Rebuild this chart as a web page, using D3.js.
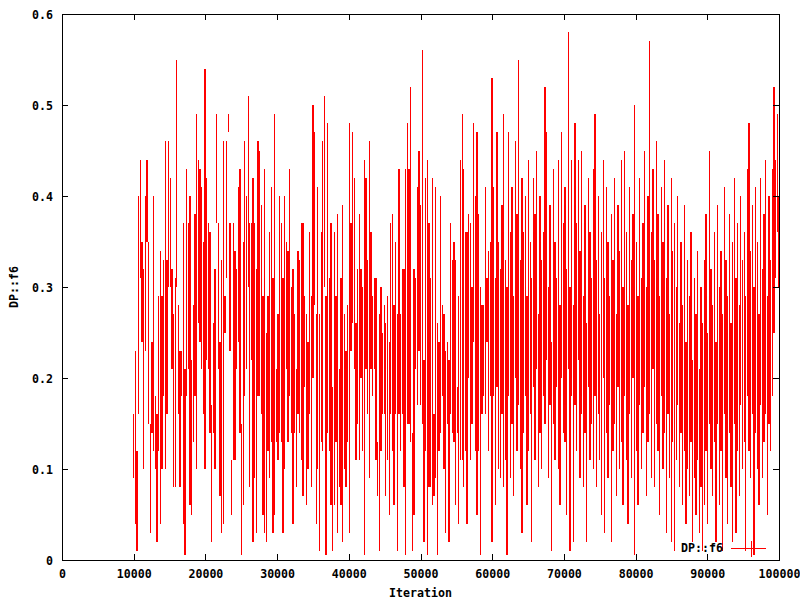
<!DOCTYPE html>
<html>
<head>
<meta charset="utf-8">
<script src="https://cdn.jsdelivr.net/npm/d3@7"></script>
<style>
  html, body { margin: 0; padding: 0; background: #fff; }
  svg { display: block; }
  text { font-family: "DejaVu Sans Mono", "Liberation Mono", monospace; font-weight: bold; font-size: 11.6px; fill: #000; }
</style>
</head>
<body>
<svg id="chart" width="800" height="600"></svg>
<script>
// ---- Data ----
// Each sample is a vertical bar: consecutive values are [upper, lower] of one sample.
const seriesName = "DP::f6";
const xLabel = "Iteration";
const yLabel = "DP::f6";
const firstIteration = 10000;
const lastIteration = 100000;
const xTicks = [0, 10000, 20000, 30000, 40000, 50000, 60000, 70000, 80000, 90000, 100000];
const yTicks = [0, 0.1, 0.2, 0.3, 0.4, 0.5, 0.6];

// iterations ~10000 - 23000
const f6Part1 = [
  0.16,0.09, 0.23,0.04, 0.12,0.01, 0.40,0.16, 0.44,0.31, 0.35,0.24, 0.32,0.10, 0.40,0.23,
  0.44,0.35, 0.35,0.15, 0.15,0.03, 0.24,0.14, 0.40,0.12, 0.18,0.10, 0.16,0.02, 0.29,0.12,
  0.34,0.04, 0.29,0.10, 0.33,0.18, 0.46,0.10, 0.33,0.16, 0.46,0.30, 0.42,0.30, 0.32,0.21,
  0.27,0.08, 0.31,0.08, 0.55,0.30, 0.28,0.16, 0.23,0.08, 0.23,0.18, 0.37,0.04, 0.21,0.005,
  0.43,0.18, 0.37,0.21, 0.40,0.06, 0.22,0.05, 0.28,0.13, 0.38,0.18, 0.49,0.10, 0.44,0.26,
  0.43,0.24, 0.41,0.21, 0.35,0.16, 0.54,0.10, 0.42,0.22, 0.37,0.21, 0.36,0.14, 0.17,0.02,
  0.26,0.14, 0.32,0.10, 0.49,0.37, 0.37,0.21, 0.24,0.07
];
// iterations ~23000 - 36000
const f6Part2 = [
  0.33,0.03, 0.46,0.04, 0.29,0.25, 0.46,0.31, 0.49,0.47, 0.37,0.23, 0.11,0.05, 0.37,0.11,
  0.34,0.11, 0.32,0.21, 0.41,0.24, 0.43,0.14, 0.15,0.005, 0.35,0.06, 0.46,0.18, 0.40,0.21,
  0.51,0.30, 0.37,0.08, 0.37,0.22, 0.42,0.02, 0.37,0.09, 0.32,0.03, 0.46,0.18, 0.45,0.18,
  0.39,0.16, 0.29,0.05, 0.43,0.03, 0.25,0.02, 0.29,0.12, 0.36,0.09, 0.41,0.13, 0.31,0.03,
  0.49,0.05, 0.21,0.13, 0.27,0.11, 0.40,0.14, 0.37,0.13, 0.31,0.03, 0.40,0.10, 0.35,0.21,
  0.34,0.13, 0.43,0.18, 0.30,0.14, 0.32,0.04, 0.27,0.14, 0.21,0.08, 0.34,0.16, 0.33,0.14,
  0.37,0.11, 0.37,0.07, 0.29,0.19, 0.27,0.06, 0.24,0.10, 0.36,0.16, 0.29,0.08, 0.50,0.20,
  0.47,0.28
];
// iterations ~36000 - 49000
const f6Part3 = [
  0.27,0.04, 0.41,0.10, 0.27,0.01, 0.36,0.13, 0.46,0.12, 0.51,0.30, 0.29,0.005, 0.48,0.14,
  0.31,0.12, 0.37,0.06, 0.19,0.01, 0.36,0.06, 0.29,0.13, 0.38,0.03, 0.21,0.08, 0.31,0.06,
  0.39,0.02, 0.27,0.10, 0.23,0.08, 0.28,0.13, 0.48,0.03, 0.37,0.23, 0.47,0.26, 0.42,0.21,
  0.26,0.11, 0.32,0.15, 0.38,0.11, 0.32,0.20, 0.30,0.12, 0.44,0.005, 0.42,0.21, 0.33,0.16,
  0.46,0.09, 0.36,0.21, 0.29,0.18, 0.31,0.21, 0.31,0.11, 0.13,0.07, 0.27,0.01, 0.30,0.12,
  0.25,0.16, 0.28,0.16, 0.26,0.07, 0.29,0.11, 0.24,0.05, 0.37,0.16, 0.38,0.12, 0.28,0.06,
  0.35,0.16, 0.27,0.01, 0.43,0.16, 0.27,0.12, 0.32,0.16, 0.32,0.08, 0.43,0.005, 0.48,0.15,
  0.43,0.15
];
// iterations ~49000 - 62000
const f6Part4 = [
  0.52,0.13, 0.14,0.01, 0.32,0.05, 0.31,0.21, 0.41,0.17, 0.45,0.23, 0.39,0.17, 0.56,0.15,
  0.22,0.02, 0.42,0.12, 0.44,0.005, 0.37,0.08, 0.31,0.08, 0.42,0.06, 0.16,0.07, 0.41,0.09,
  0.26,0.005, 0.24,0.12, 0.40,0.14, 0.28,0.18, 0.27,0.10, 0.23,0.03, 0.24,0.15, 0.22,0.02,
  0.37,0.16, 0.33,0.14, 0.35,0.13, 0.33,0.06, 0.19,0.14, 0.29,0.04, 0.44,0.11, 0.49,0.11,
  0.43,0.08, 0.36,0.12, 0.36,0.04, 0.38,0.20, 0.37,0.11, 0.30,0.15, 0.48,0.24, 0.40,0.12,
  0.47,0.05, 0.38,0.12, 0.30,0.005, 0.28,0.16, 0.28,0.18, 0.41,0.16, 0.31,0.24, 0.34,0.12,
  0.35,0.18, 0.53,0.02, 0.41,0.18, 0.31,0.06, 0.47,0.19, 0.35,0.10, 0.32,0.09, 0.39,0.16,
  0.49,0.08
];
// iterations ~62000 - 100000
const f6Part5 = [
  0.33,0.11, 0.30,0.005, 0.47,0.18, 0.36,0.09, 0.41,0.15, 0.29,0.07,
  0.46,0.20, 0.38,0.12, 0.55,0.17, 0.33,0.10, 0.42,0.03, 0.36,0.14,
  0.40,0.18, 0.29,0.06, 0.44,0.12, 0.35,0.16, 0.31,0.02, 0.42,0.19,
  0.38,0.11, 0.45,0.21, 0.27,0.08, 0.40,0.14, 0.33,0.10, 0.36,0.18,
  0.52,0.15, 0.47,0.22, 0.30,0.09, 0.39,0.17, 0.24,0.01, 0.43,0.15,
  0.35,0.11, 0.31,0.19, 0.44,0.10, 0.28,0.06, 0.47,0.20, 0.37,0.14,
  0.41,0.13, 0.32,0.05, 0.58,0.21, 0.30,0.01, 0.44,0.18, 0.28,0.02,
  0.48,0.17, 0.37,0.12, 0.44,0.22, 0.34,0.09, 0.45,0.16, 0.29,0.08,
  0.39,0.14, 0.26,0.02, 0.42,0.19, 0.36,0.11, 0.31,0.15, 0.43,0.10,
  0.49,0.18, 0.33,0.08, 0.40,0.16, 0.27,0.11, 0.36,0.05, 0.44,0.20,
  0.31,0.03, 0.41,0.14, 0.35,0.09, 0.29,0.17, 0.38,0.02, 0.33,0.12,
  0.42,0.15, 0.27,0.07, 0.39,0.19, 0.34,0.10, 0.44,0.13, 0.30,0.06,
  0.45,0.18, 0.36,0.11, 0.28,0.04, 0.41,0.16, 0.33,0.09, 0.38,0.20,
  0.50,0.005, 0.35,0.12, 0.29,0.06, 0.42,0.17, 0.31,0.10, 0.37,0.14,
  0.45,0.19, 0.30,0.07, 0.40,0.13, 0.57,0.16, 0.36,0.09, 0.43,0.21,
  0.33,0.08, 0.46,0.15, 0.38,0.12, 0.29,0.05, 0.41,0.18, 0.35,0.10,
  0.44,0.14, 0.31,0.03, 0.39,0.16, 0.27,0.09, 0.42,0.02, 0.34,0.13,
  0.37,0.01, 0.30,0.11, 0.40,0.17, 0.26,0.08, 0.35,0.14, 0.28,0.06,
  0.39,0.12, 0.24,0.04, 0.33,0.10, 0.29,0.07, 0.36,0.13, 0.22,0.02,
  0.31,0.09, 0.27,0.05, 0.34,0.11, 0.21,0.03, 0.30,0.08, 0.26,0.01,
  0.33,0.06, 0.38,0.12, 0.25,0.04, 0.45,0.15, 0.32,0.10, 0.28,0.07,
  0.36,0.13, 0.24,0.02, 0.39,0.15, 0.30,0.06, 0.34,0.12, 0.27,0.01,
  0.41,0.16, 0.33,0.09, 0.29,0.04, 0.38,0.14, 0.26,0.08, 0.35,0.02,
  0.42,0.15, 0.31,0.03, 0.37,0.12, 0.28,0.07, 0.40,0.17, 0.33,0.10,
  0.36,0.13, 0.29,0.01, 0.43,0.18, 0.48,0.12, 0.34,0.09, 0.39,0.16,
  0.30,0.005, 0.41,0.14, 0.35,0.10, 0.27,0.06, 0.42,0.17, 0.32,0.09,
  0.38,0.13, 0.44,0.16, 0.29,0.05, 0.40,0.15, 0.33,0.12, 0.43,0.18,
  0.52,0.25, 0.44,0.31, 0.49,0.36, 0.40,0.30
];

const f6Values = [].concat(f6Part1, f6Part2, f6Part3, f6Part4, f6Part5);
const nSamples = f6Values.length / 2;
const iterStep = (lastIteration - firstIteration) / (nSamples - 1);
const samples = d3.range(nSamples).map(i => ({
  iter: firstIteration + i * iterStep,
  hi: f6Values[2 * i],
  lo: f6Values[2 * i + 1]
}));

// ---- Layout ----
const svg = d3.select("#chart");
const mLeft = 62, mRight = 779, mTop = 14, mBottom = 560;

const x = d3.scaleLinear().domain([0, 100000]).range([mLeft, mRight]);
const y = d3.scaleLinear().domain([0, 0.6]).range([mBottom, mTop]);

// Data bars (vertical error-bar style marks)
svg.append("g")
  .attr("stroke", "#ff0000")
  .attr("stroke-width", 1.3)
  .attr("shape-rendering", "crispEdges")
  .selectAll("line")
  .data(samples)
  .join("line")
  .attr("x1", d => x(d.iter)).attr("x2", d => x(d.iter))
  .attr("y1", d => y(d.hi)).attr("y2", d => y(d.lo));

// Axes (gnuplot style, inward ticks mirrored on all sides)
const fmtX = d3.format("d");
const fmtY = v => (v === 0 ? "0" : d3.format(".1f")(v));

const gx = svg.append("g").attr("transform", `translate(0,${mBottom})`)
  .call(d3.axisBottom(x).tickValues(xTicks).tickSize(-6).tickFormat(fmtX));
gx.selectAll("text").attr("y", 18).attr("dy", 0);

const gxTop = svg.append("g").attr("transform", `translate(0,${mTop})`)
  .call(d3.axisTop(x).tickValues(xTicks).tickSize(-6).tickFormat(""));

const gy = svg.append("g").attr("transform", `translate(${mLeft},0)`)
  .call(d3.axisLeft(y).tickValues(yTicks).tickSize(-6).tickFormat(fmtY));
gy.selectAll("text").attr("x", -9).attr("dy", "0.35em");

const gyRight = svg.append("g").attr("transform", `translate(${mRight},0)`)
  .call(d3.axisRight(y).tickValues(yTicks).tickSize(-6).tickFormat(""));

[gx, gxTop, gy, gyRight].forEach(g => {
  g.select(".domain").remove();
  g.selectAll("line").attr("stroke", "#000").attr("shape-rendering", "crispEdges");
  g.selectAll("text").style("font-family", "'DejaVu Sans Mono', monospace")
    .style("font-weight", "bold").style("font-size", "11.6px").attr("fill", "#000");
});

// Border
svg.append("rect")
  .attr("x", mLeft).attr("y", mTop)
  .attr("width", mRight - mLeft).attr("height", mBottom - mTop)
  .attr("fill", "none").attr("stroke", "#000").attr("stroke-width", 1)
  .attr("shape-rendering", "crispEdges");

// Axis titles
svg.append("text").attr("x", (mLeft + mRight) / 2).attr("y", 597)
  .attr("text-anchor", "middle").text(xLabel);
svg.append("text")
  .attr("transform", `translate(18,${(mTop + mBottom) / 2}) rotate(-90)`)
  .attr("text-anchor", "middle").text(yLabel);

// Legend
const legY = 548;
svg.append("text").attr("x", 723).attr("y", legY + 4)
  .attr("text-anchor", "end").text(seriesName);
svg.append("line").attr("x1", 731).attr("x2", 766).attr("y1", legY).attr("y2", legY)
  .attr("stroke", "#ff0000").attr("shape-rendering", "crispEdges");
svg.append("line").attr("x1", 751).attr("x2", 751).attr("y1", legY - 7).attr("y2", legY + 9)
  .attr("stroke", "#ff0000").attr("shape-rendering", "crispEdges");
</script>
</body>
</html>
